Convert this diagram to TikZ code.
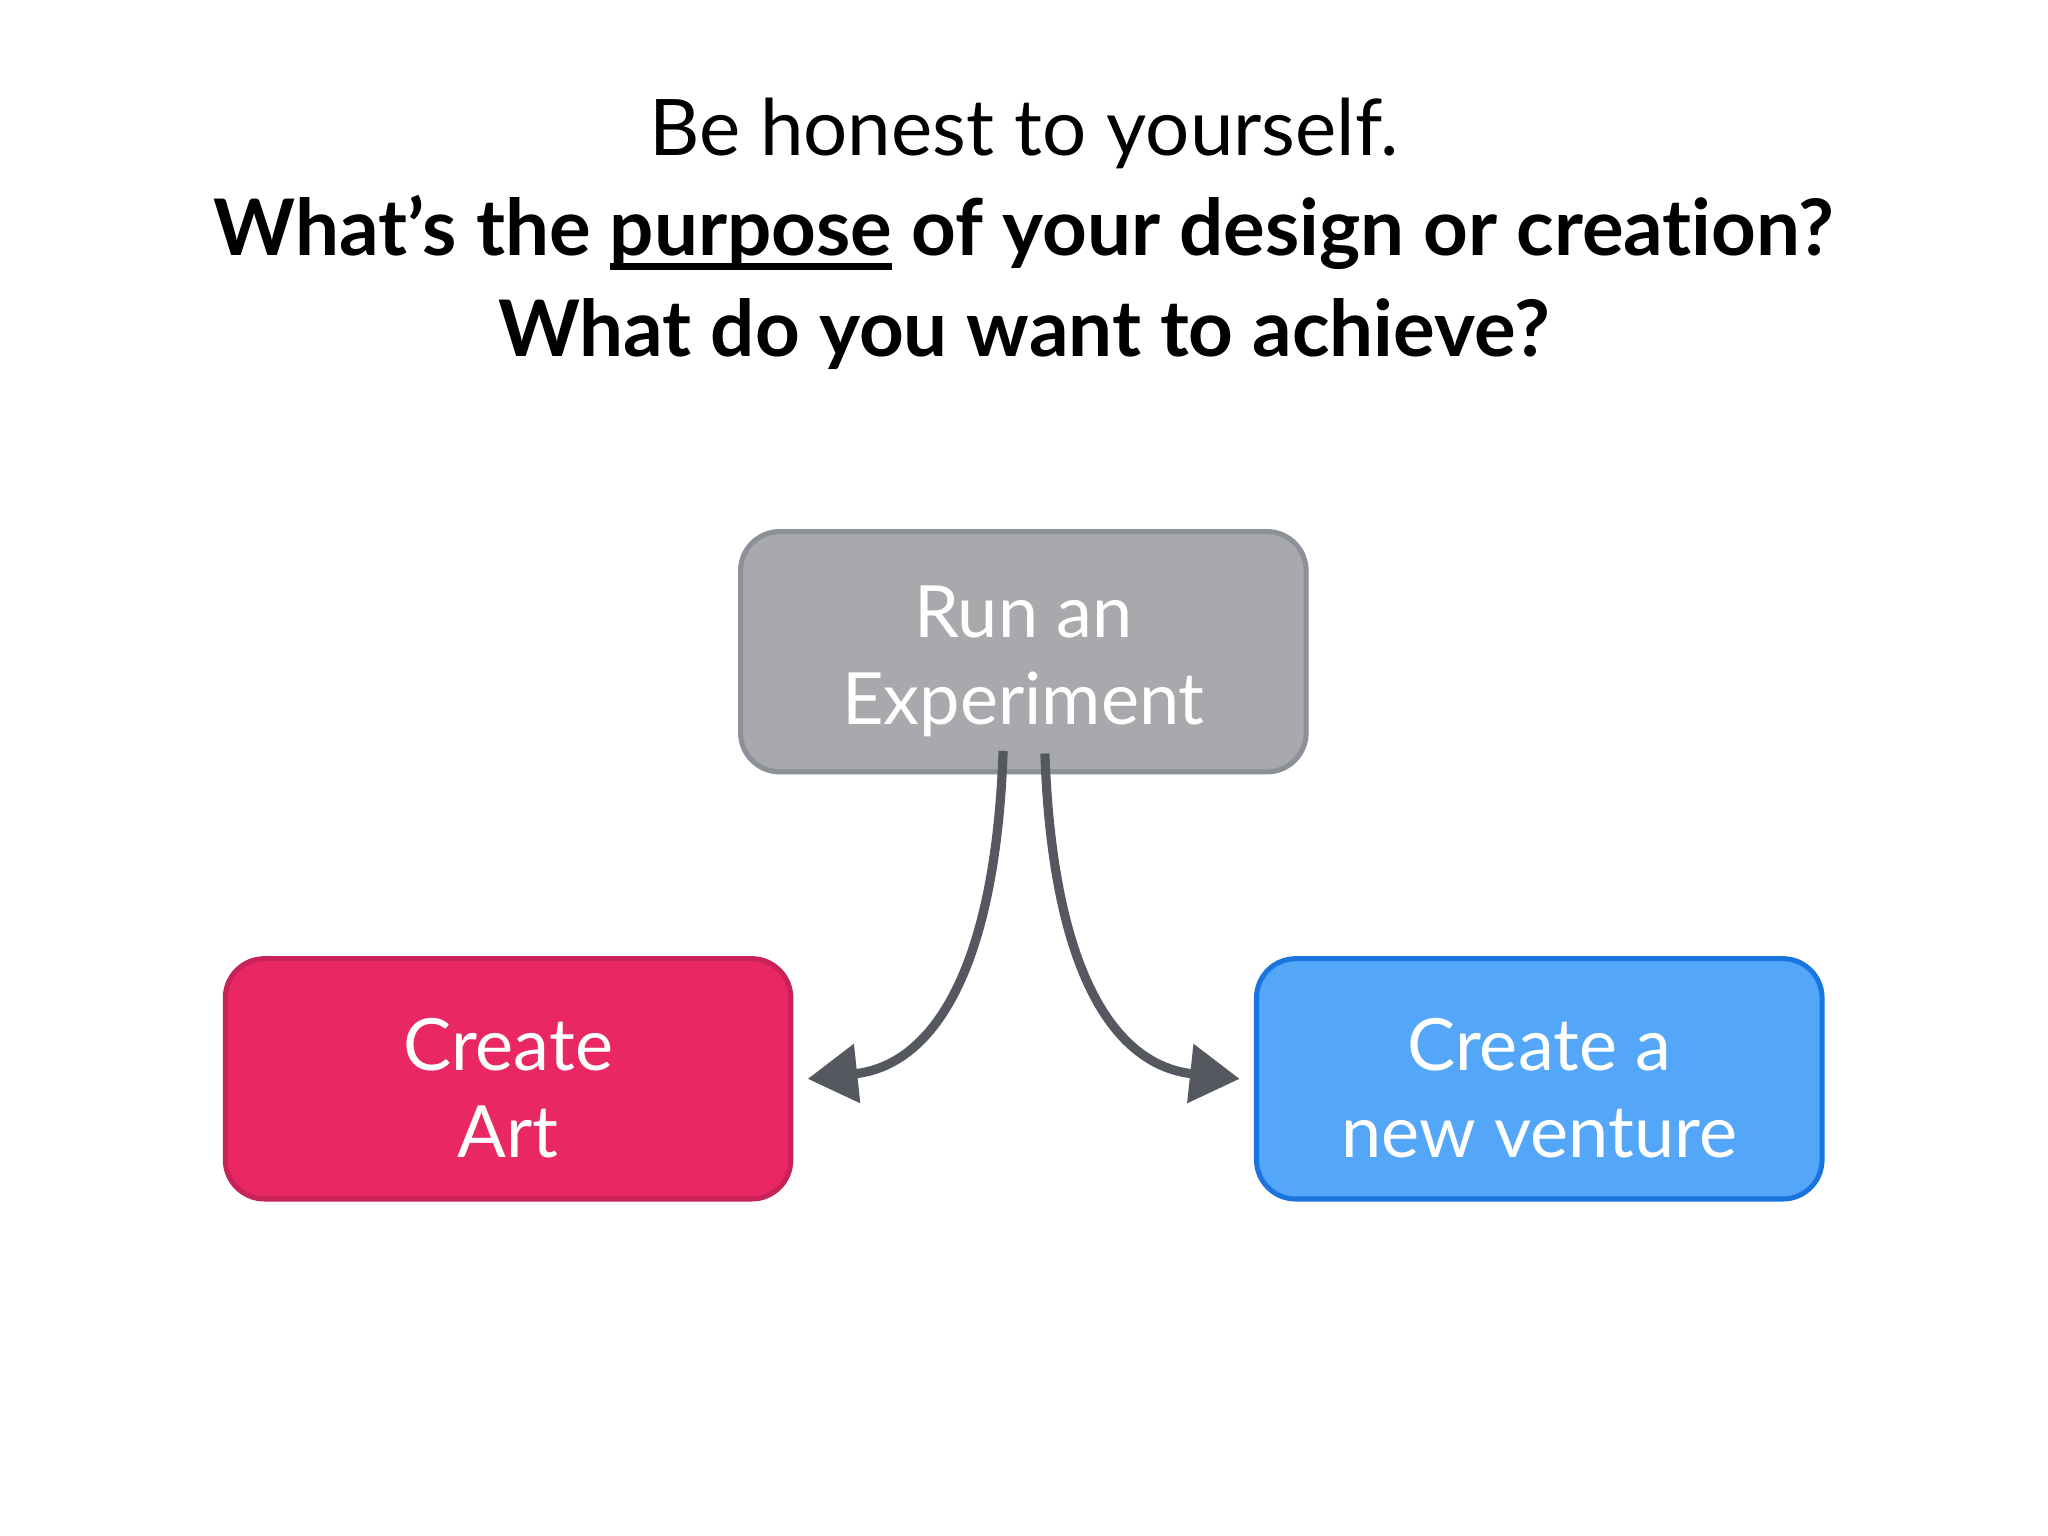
\documentclass[tikz,border=0pt]{standalone}
\usepackage{fontspec}
\setmainfont{Lato}[Ligatures=NoCommon]
\usetikzlibrary{arrows.meta}
\definecolor{boxgray}{HTML}{A7A9AC}
\definecolor{edgegray}{HTML}{8E9099}
\definecolor{artred}{HTML}{E92763}
\definecolor{artedge}{HTML}{C72259}
\definecolor{ventblue}{HTML}{54A6F8}
\definecolor{ventedge}{HTML}{1A76DE}
\definecolor{flowgray}{HTML}{55585E}
\newcommand\myul[1]{\setbox0=\hbox{#1}\leavevmode\rlap{\rule[-3pt]{\wd0}{1.5pt}}\box0\relax}
\newcommand\lift{\rule{0pt}{15.5pt}}
\tikzset{
  card/.style={rounded corners=0.3cm, minimum width=4.33cm, minimum height=1.84cm,
    line width=1.1pt, text=white, align=center, font=\fontsize{15.7}{18.8}\selectfont},
  flow/.style={draw=flowgray, line width=2pt, -{Triangle[length=3.8mm,width=4.4mm]}}
}
\begin{document}
\begin{tikzpicture}
\useasboundingbox[fill=white] (0,0) rectangle (15.68,11.76);
\node[align=center, font=\fontsize{17}{21.9}\selectfont] (title) at (7.84,9.97)
  {Be honest to yourself.\\
   \textbf{What’s the \myul{purpose} of your design or creation?}\\
   \textbf{What do you want to achieve?}};
\node[card, fill=boxgray, draw=edgegray] (run) at (7.835,6.77) {\lift Run an\\Experiment};
\node[card, fill=artred, draw=artedge] (art) at (3.89,3.50) {\lift Create\\Art};
\node[card, fill=ventblue, draw=ventedge] (venture) at (11.785,3.50) {\lift Create a\\new venture};
\draw[flow] ([xshift=-0.155cm,yshift=0.18cm]run.south)
  .. controls +(-0.06,-1.73) and +(0.93,0.10) .. ([xshift=0.11cm]art.east);
\draw[flow] ([xshift=0.165cm,yshift=0.16cm]run.south)
  .. controls +(0.06,-1.73) and +(-0.93,0.10) .. ([xshift=-0.11cm]venture.west);
\end{tikzpicture}
\end{document}
